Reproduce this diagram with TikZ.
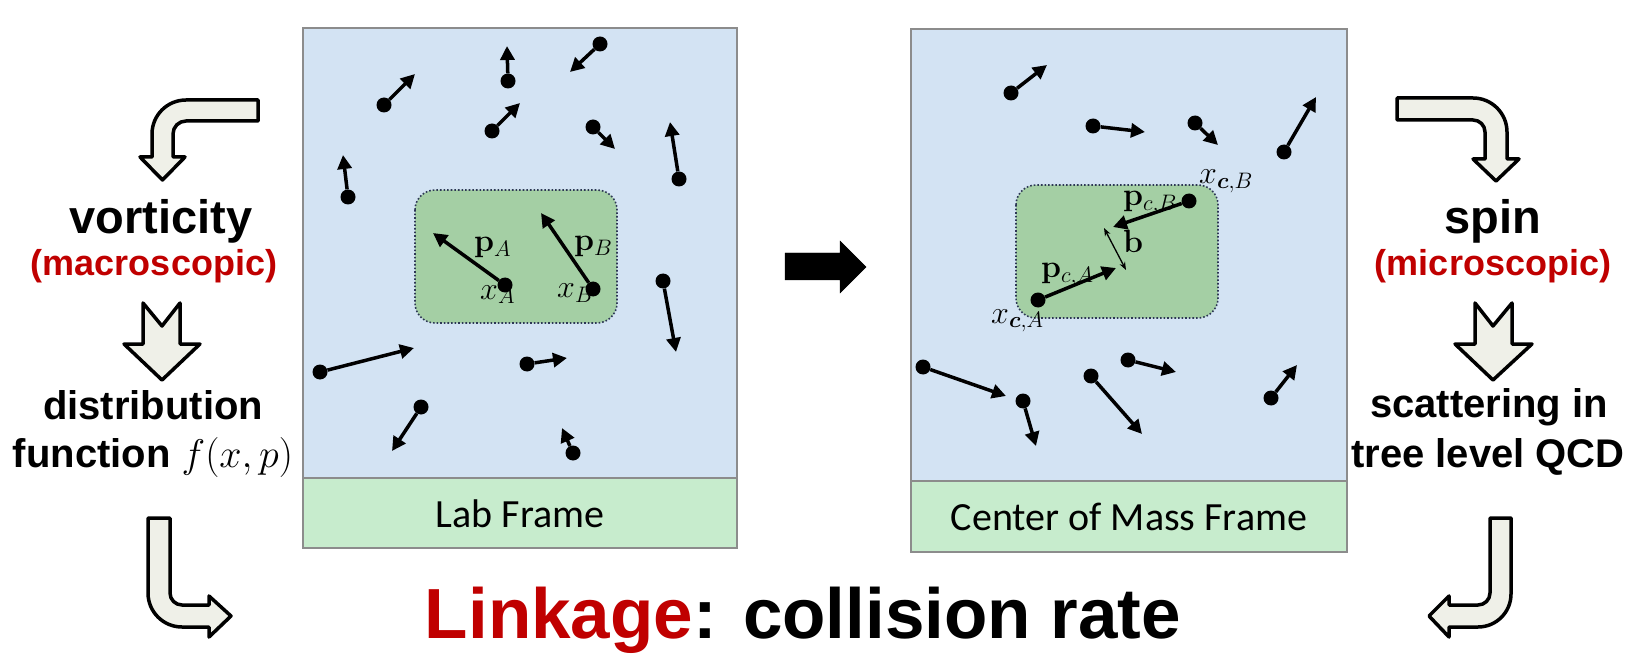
\RequirePackage{fix-cm}
\documentclass[tikz,border=0pt]{standalone}
\usepackage{amsmath}
\usepackage[no-math]{fontspec}
\setmainfont{Liberation Sans}
\newfontfamily\calib{Carlito}
\usetikzlibrary{arrows.meta}
\definecolor{bluefill}{RGB}{211,227,243}
\definecolor{labfill}{RGB}{199,236,205}
\definecolor{boxfill}{RGB}{164,207,164}
\definecolor{boxline}{RGB}{45,55,85}
\definecolor{arrowfill}{RGB}{239,240,232}
\definecolor{darkred}{RGB}{192,0,0}
\definecolor{panelline}{RGB}{140,140,140}
\tikzset{
  dot/.style={circle, fill=black, inner sep=0pt, minimum size=15pt},
  vec/.style={line width=3.5pt, -{Triangle[length=14pt,width=14pt]}},
  bent/.style={draw=black, line width=3.5pt, fill=arrowfill, line join=round},
  panel/.style={fill=bluefill, draw=panelline, line width=1.5pt},
  labbox/.style={fill=labfill, draw=panelline, line width=1.5pt},
  region/.style={fill=boxfill, draw=boxline, line width=1.6pt, dotted, rounded corners=20pt},
  bigtxt/.style={anchor=base, font=\fontsize{47}{50}\selectfont\bfseries},
  midtxt/.style={anchor=base, font=\fontsize{36}{40}\selectfont\bfseries, text=darkred},
  smalltxt/.style={anchor=base, font=\fontsize{40}{44}\selectfont\bfseries},
  frametxt/.style={font=\fontsize{40}{44}\selectfont\calib},
  mlabel/.style={anchor=base west, inner sep=0pt, font=\fontsize{32}{36}\selectfont},
}
\begin{document}
\begin{tikzpicture}[x=1pt,y=-1pt]
\useasboundingbox (0,0) rectangle (1635,668);
% panels
\draw[panel] (303,28) rectangle (737,478);
\draw[labbox] (303,478) rectangle (737,548);
\node[frametxt] (labf) at (520,514) {Lab Frame};
\draw[panel] (911,29) rectangle (1347,481);
\draw[labbox] (911,481) rectangle (1347,552);
\node[frametxt] (cmf) at (1129,517) {Center of Mass Frame};
% green regions
\draw[region] (415,190) rectangle (617,323);
\draw[region] (1016,185) rectangle (1218,318);
% left particles
\foreach \n/\ax/\ay/\bx/\by in {1/384/105/415/74, 2/508/81/507/46, 3/600/44/570/72, 4/492/131/520/103,
  5/593/127/615/149, 6/348/197/343/155, 7/679/179/670/122, 8/505/285/433/233, 9/593/289/541/213,
  10/663/281/676/352, 11/320/372/414/348, 12/527/364/567/358, 13/421/407/392/451, 14/573/453/562/428}{
  \node[dot] (L\n) at (\ax,\ay) {};
  \coordinate (L\n h) at (\bx,\by);
  \draw[vec] (L\n) -- (L\n h);
}
% right particles
\foreach \n/\ax/\ay/\bx/\by in {1/1011/93/1047/65, 2/1093/126/1145/132, 3/1195/123/1218/145, 4/1284/152/1316/97,
  5/1038/300/1116/268, 6/1189/201/1113/227, 7/923/367/1006/396, 8/1023/401/1036/446,
  9/1091/376/1142/434, 10/1128/360/1176/372, 11/1271/398/1297/365}{
  \node[dot] (R\n) at (\ax,\ay) {};
  \coordinate (R\n h) at (\bx,\by);
  \draw[vec] (R\n) -- (R\n h);
}
\coordinate (b1) at (1104,228);
\coordinate (b2) at (1126,270);
\draw[line width=1.3pt, {Stealth[length=8pt,width=6pt]}-{Stealth[length=8pt,width=6pt]}] (b1) -- (b2);
% math labels
\node[mlabel] (pA) at (474,252) {$\mathbf{p}_A$};
\node[mlabel] (pB) at (574,251) {$\mathbf{p}_B$};
\node[mlabel] (xA) at (480,299) {$x_A$};
\node[mlabel] (xB) at (557,298) {$x_B$};
\node[mlabel] (pcB) at (1123,206) {$\mathbf{p}_{c,B}$};
\node[mlabel] (bl) at (1123,253) {$\mathbf{b}$};
\node[mlabel] (pcA) at (1041,278) {$\mathbf{p}_{c,A}$};
\node[mlabel] (xcB) at (1199,184) {$x_{\boldsymbol{c},B}$};
\node[mlabel] (xcA) at (991,323) {$x_{\boldsymbol{c},A}$};
% middle block arrow
\draw[fill=black] (785,253) -- (840,253) -- (840,241) -- (866,267) -- (840,293) -- (840,280) -- (785,280) -- cycle;
% left column
\draw[bent] (258,100) -- (186,100) arc[start angle=270, end angle=180, radius=34] -- (152,157) -- (140,157) -- (162.5,180) -- (185,157) -- (173,157) -- (173,134) arc[start angle=180, end angle=270, radius=13] -- (258,121) -- cycle;
\node[bigtxt] (vort) at (161,234) {vorticity};
\node[midtxt] (macro) at (154,276) {(macroscopic)};
\draw[bent] (143,303) -- (162,326) -- (180,303) -- (180,344) -- (200,344) -- (162,380) -- (124,344) -- (143,344) -- cycle;
\node[smalltxt] (distr) at (153,419) {distribution};
\node[smalltxt] (func) at (153,467) {function $f(x,p)$};
\draw[bent] (148,518) -- (170,518) -- (170,593) arc[start angle=180, end angle=90, radius=12] -- (209,605) -- (209,596) -- (231,616) -- (209,637) -- (209,627) -- (182,627) arc[start angle=90, end angle=180, radius=34] -- cycle;
% right column
\draw[bent] (1397,98) -- (1473,98) arc[start angle=270, end angle=360, radius=34] -- (1507,159) -- (1519,159) -- (1496,181) -- (1473,159) -- (1485,159) -- (1485,132) arc[start angle=0, end angle=-90, radius=12] -- (1397,120) -- cycle;
\node[bigtxt] (spin) at (1493,234) {spin};
\node[midtxt] (micro) at (1493,276) {(microscopic)};
\draw[bent] (1475,303) -- (1493,326) -- (1512,303) -- (1512,344) -- (1532,344) -- (1493,380) -- (1455,344) -- (1475,344) -- cycle;
\node[smalltxt] (scat) at (1489,417) {scattering in};
\node[smalltxt] (tree) at (1488,467) {tree level QCD};
\draw[bent] (1511,518) -- (1490,518) -- (1490,593) arc[start angle=0, end angle=90, radius=12] -- (1449,605) -- (1449,596) -- (1429,616) -- (1449,637) -- (1449,627) -- (1478,627) arc[start angle=90, end angle=0, radius=33] -- cycle;
% bottom text
\node[anchor=base, font=\fontsize{71}{76}\selectfont\bfseries] (link) at (803,638) {\textcolor{darkred}{Linkage}: collision rate};
\end{tikzpicture}
\end{document}
